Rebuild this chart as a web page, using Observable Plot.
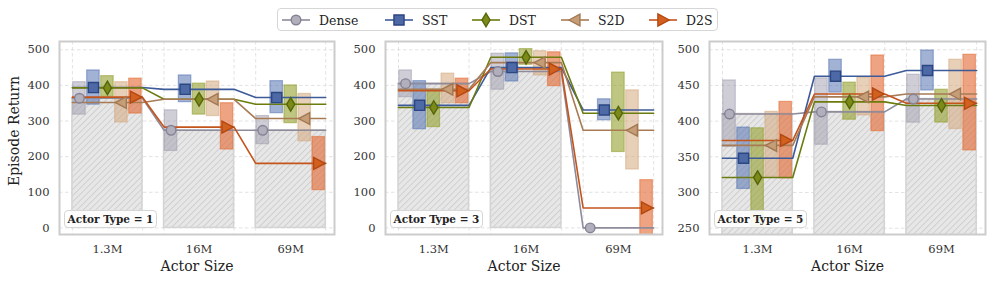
<!DOCTYPE html>
<html><head><meta charset="utf-8">
<script src="https://cdn.jsdelivr.net/npm/d3@7"></script>
<script src="https://cdn.jsdelivr.net/npm/@observablehq/plot@0.6"></script>
<style>
body{margin:0;background:#fff;font-family:"DejaVu Serif",serif;}
#wrap{position:relative;width:996px;height:283px;overflow:hidden;background:#fff;}
.panel{position:absolute;top:0;}
.tag{position:absolute;top:210px;height:16px;width:91px;border:1.5px solid #d6d6d6;border-radius:4px;background:rgba(255,255,255,0.9);font:bold 10.5px "DejaVu Serif",serif;color:#222;display:flex;align-items:center;justify-content:center;white-space:nowrap;}
#ylab{position:absolute;left:13.5px;top:131px;transform:translate(-50%,-50%) rotate(-90deg);font-size:14px;color:#222;white-space:nowrap;}
#legend{position:absolute;left:277px;top:8px;width:439px;height:21px;border:1.5px solid #d6d6d6;border-radius:4px;background:#fff;display:flex;align-items:center;font-size:12.5px;color:#222;box-sizing:content-box;}
.li{display:flex;align-items:center;position:absolute;top:3px;}
.li svg{margin-right:9px;}
</style>
</head><body>
<svg width="0" height="0" style="position:absolute"><defs>
<pattern id="hatch" patternUnits="userSpaceOnUse" width="4.4" height="4.4" patternTransform="rotate(45)">
<rect width="4.4" height="4.4" fill="#e7e7e7"/><line x1="0.5" y1="0" x2="0.5" y2="4.4" stroke="#cdcdcd" stroke-width="0.9"/>
</pattern></defs></svg>
<div id="wrap">
  <div id="legend"></div>
  <div id="ylab">Episode Return</div>
</div>
<script>
// ---- data ----
const sizes = ["1.3M", "16M", "69M"];
const methods = ["Dense", "SST", "DST", "S2D", "D2S"];
const panelTitles = ["Actor Type = 1", "Actor Type = 3", "Actor Type = 5"];

// rows: methods (Dense, SST, DST, S2D, D2S); columns: sizes (1.3M, 16M, 69M)
const type1Mean = [[364, 274, 274], [394, 389, 366], [393, 361, 347], [352, 361, 307], [367, 283, 181]];
const type1Lo   = [[318, 216, 235], [346, 353, 322], [368, 318, 294], [296, 314, 243], [321, 220, 106]];
const type1Hi   = [[409, 330, 314], [442, 428, 412], [426, 405, 400], [409, 411, 376], [419, 350, 255]];

const type3Mean = [[405, 439, 0], [344, 450, 331], [338, 479, 322], [389, 464, 274], [385, 446, 56]];
const type3Lo   = [[367, 388, 0], [277, 411, 302], [283, 458, 213], [350, 428, 164], [350, 398, -25]];
const type3Hi   = [[442, 489, 0], [412, 490, 361], [388, 502, 436], [433, 496, 386], [419, 493, 134]];

const type5Mean = [[410, 413, 431], [348, 463, 471], [321, 427, 422], [366, 434, 438], [373, 438, 425]];
const type5Lo   = [[364, 367, 398], [305, 440, 443], [252, 402, 398], [322, 408, 389], [320, 386, 359]];
const type5Hi   = [[457, 460, 465], [391, 486, 499], [390, 454, 444], [413, 461, 486], [427, 492, 493]];

const yTicksA = [0, 100, 200, 300, 400, 500];
const yTicksB = [250, 300, 350, 400, 450, 500];

// ---- styles ----
const lineColor  = {Dense: "#8e8b9b", SST: "#3d5a99", DST: "#6b7b0e", S2D: "#a87b55", D2S: "#c4541c"};
const dotFill    = {Dense: "#b2afbd", SST: "#4d69a6", DST: "#7b8a18", S2D: "#c59d77", D2S: "#d2601f"};
const dotStroke  = {Dense: "#858295", SST: "#2c4682", DST: "#56650a", S2D: "#a27852", D2S: "#b24812"};
const boxColor   = {Dense: "#a09dad", SST: "#5473b0", DST: "#8f9d26", S2D: "#d4a77e", D2S: "#e2672f"};
const boxOpacity = {Dense: 0.5, SST: 0.55, DST: 0.58, S2D: 0.55, D2S: 0.6};

const thinDiamond = {draw(ctx, size) { const r = Math.sqrt(size / Math.PI); ctx.moveTo(0, -r * 1.25); ctx.lineTo(r * 0.75, 0); ctx.lineTo(0, r * 1.25); ctx.lineTo(-r * 0.75, 0); ctx.closePath(); }};
const triLeft  = {draw(ctx, size) { const r = Math.sqrt(size / Math.PI); ctx.moveTo(-r * 1.05, 0); ctx.lineTo(r * 0.85, -r); ctx.lineTo(r * 0.85, r); ctx.closePath(); }};
const triRight = {draw(ctx, size) { const r = Math.sqrt(size / Math.PI); ctx.moveTo(r * 1.05, 0); ctx.lineTo(-r * 0.85, -r); ctx.lineTo(-r * 0.85, r); ctx.closePath(); }};
const symbolOf = {Dense: "circle", SST: "square", DST: thinDiamond, S2D: triLeft, D2S: triRight};
const rOf = {Dense: 4.8, SST: 5.7, DST: 5.4, S2D: 5.8, D2S: 6.0};

const HALF = 0.382;                 // half width of a size group
const STEP = 2 * HALF / methods.length;
const BOXHALF = 0.068;

const layouts = [
  {left: 0,   width: 340, ml: 59, mr: 6,  yd: [-18.6, 523.3], ticks: yTicksA, mean: type1Mean, lo: type1Lo, hi: type1Hi},
  {left: 340, width: 328, ml: 45, mr: 6,  yd: [-18.6, 523.3], ticks: yTicksA, mean: type3Mean, lo: type3Lo, hi: type3Hi},
  {left: 668, width: 328, ml: 41, mr: 11, yd: [241.2, 511.6], ticks: yTicksB, mean: type5Mean, lo: type5Lo, hi: type5Hi}
];

const wrap = document.getElementById("wrap");

layouts.forEach((L, p) => {
  const rows = [];
  const pts = [];
  methods.forEach((m, k) => {
    sizes.forEach((s, g) => {
      rows.push({method: m, g, xc: g - HALF + (k + 0.5) * STEP, mean: L.mean[k][g], lo: L.lo[k][g], hi: L.hi[k][g]});
      pts.push({method: m, x: g - HALF, y: L.mean[k][g]});
      pts.push({method: m, x: g + HALF, y: L.mean[k][g]});
    });
  });
  const bars = sizes.map((s, g) => ({g, v: L.mean[0][g]}));
  const edges = sizes.flatMap((s, g) => [g - HALF, g + HALF]);

  const marks = [
    Plot.gridY(L.ticks, {stroke: "#dadada", strokeOpacity: 1, strokeWidth: 0.8, strokeDasharray: "3.5,2.5"}),
    Plot.gridX(edges, {stroke: "#dadada", strokeOpacity: 1, strokeWidth: 0.8, strokeDasharray: "3.5,2.5"}),
    Plot.rect(bars, {x1: d => d.g - HALF, x2: d => d.g + HALF, y1: 0, y2: "v", fill: "url(#hatch)", stroke: "#d3d3d3", strokeWidth: 1.5, clip: true})
  ];
  methods.forEach(m => {
    marks.push(Plot.rect(rows.filter(d => d.method === m), {
      x1: d => d.xc - BOXHALF, x2: d => d.xc + BOXHALF, y1: "lo", y2: "hi",
      fill: boxColor[m], fillOpacity: boxOpacity[m], stroke: boxColor[m], strokeOpacity: 0.55, strokeWidth: 1.2, clip: true
    }));
  });
  methods.forEach(m => {
    marks.push(Plot.line(pts.filter(d => d.method === m), {x: "x", y: "y", stroke: lineColor[m], strokeWidth: 1.6, clip: true}));
  });
  methods.forEach(m => {
    marks.push(Plot.dot(rows.filter(d => d.method === m), {
      x: "xc", y: "mean", symbol: symbolOf[m], r: rOf[m], fill: dotFill[m], stroke: dotStroke[m], strokeWidth: 1.4
    }));
  });
  marks.push(Plot.frame({stroke: "#cccccc", strokeWidth: 2}));
  marks.push(Plot.axisY(L.ticks, {tickSize: 0, tickPadding: 10, label: null, fontSize: 11.5}));
  marks.push(Plot.axisX([0, 1, 2], {tickSize: 0, tickPadding: 10, tickFormat: i => sizes[i], fontSize: 11.5,
    label: "Actor Size", labelAnchor: "center", labelArrow: "none", labelOffset: 36}));

  const chart = Plot.plot({
    width: L.width, height: 283,
    marginLeft: L.ml, marginRight: L.mr, marginTop: 41, marginBottom: 49,
    x: {type: "linear", domain: [-0.523, 2.478]},
    y: {domain: L.yd},
    style: {fontFamily: "DejaVu Serif, serif", fontSize: "11.5px", color: "#333", background: "transparent"},
    marks
  });
  const div = document.createElement("div");
  div.className = "panel";
  div.style.left = L.left + "px";
  div.appendChild(chart);
  wrap.appendChild(div);
  chart.querySelectorAll('[aria-label="x-axis label"] text').forEach(t => { t.setAttribute("font-size", "14px"); t.style.fontSize = "14px"; t.setAttribute("fill", "#222"); });

  const tag = document.createElement("div");
  tag.className = "tag";
  tag.style.left = (L.left + L.ml + 5) + "px";
  tag.textContent = panelTitles[p];
  wrap.appendChild(tag);
});

// legend
const legend = document.getElementById("legend");
const legX = [4, 107, 194, 283, 371];
methods.forEach((m, i) => {
  const item = document.createElement("div");
  item.className = "li";
  item.style.left = legX[i] + "px";
  const sym = symbolOf[m] === "circle" ? d3.symbolCircle : symbolOf[m] === "square" ? d3.symbolSquare : symbolOf[m];
  const r = rOf[m];
  const path = d3.symbol().type(sym).size(r * r * Math.PI)();
  item.innerHTML = `<svg width="28" height="16"><line x1="0" y1="8" x2="28" y2="8" stroke="${lineColor[m]}" stroke-width="1.6"/>` +
    `<path d="${path}" transform="translate(14,8)" fill="${dotFill[m]}" stroke="${dotStroke[m]}" stroke-width="1.4"/></svg><span>${m}</span>`;
  legend.appendChild(item);
});
</script>
</body></html>
